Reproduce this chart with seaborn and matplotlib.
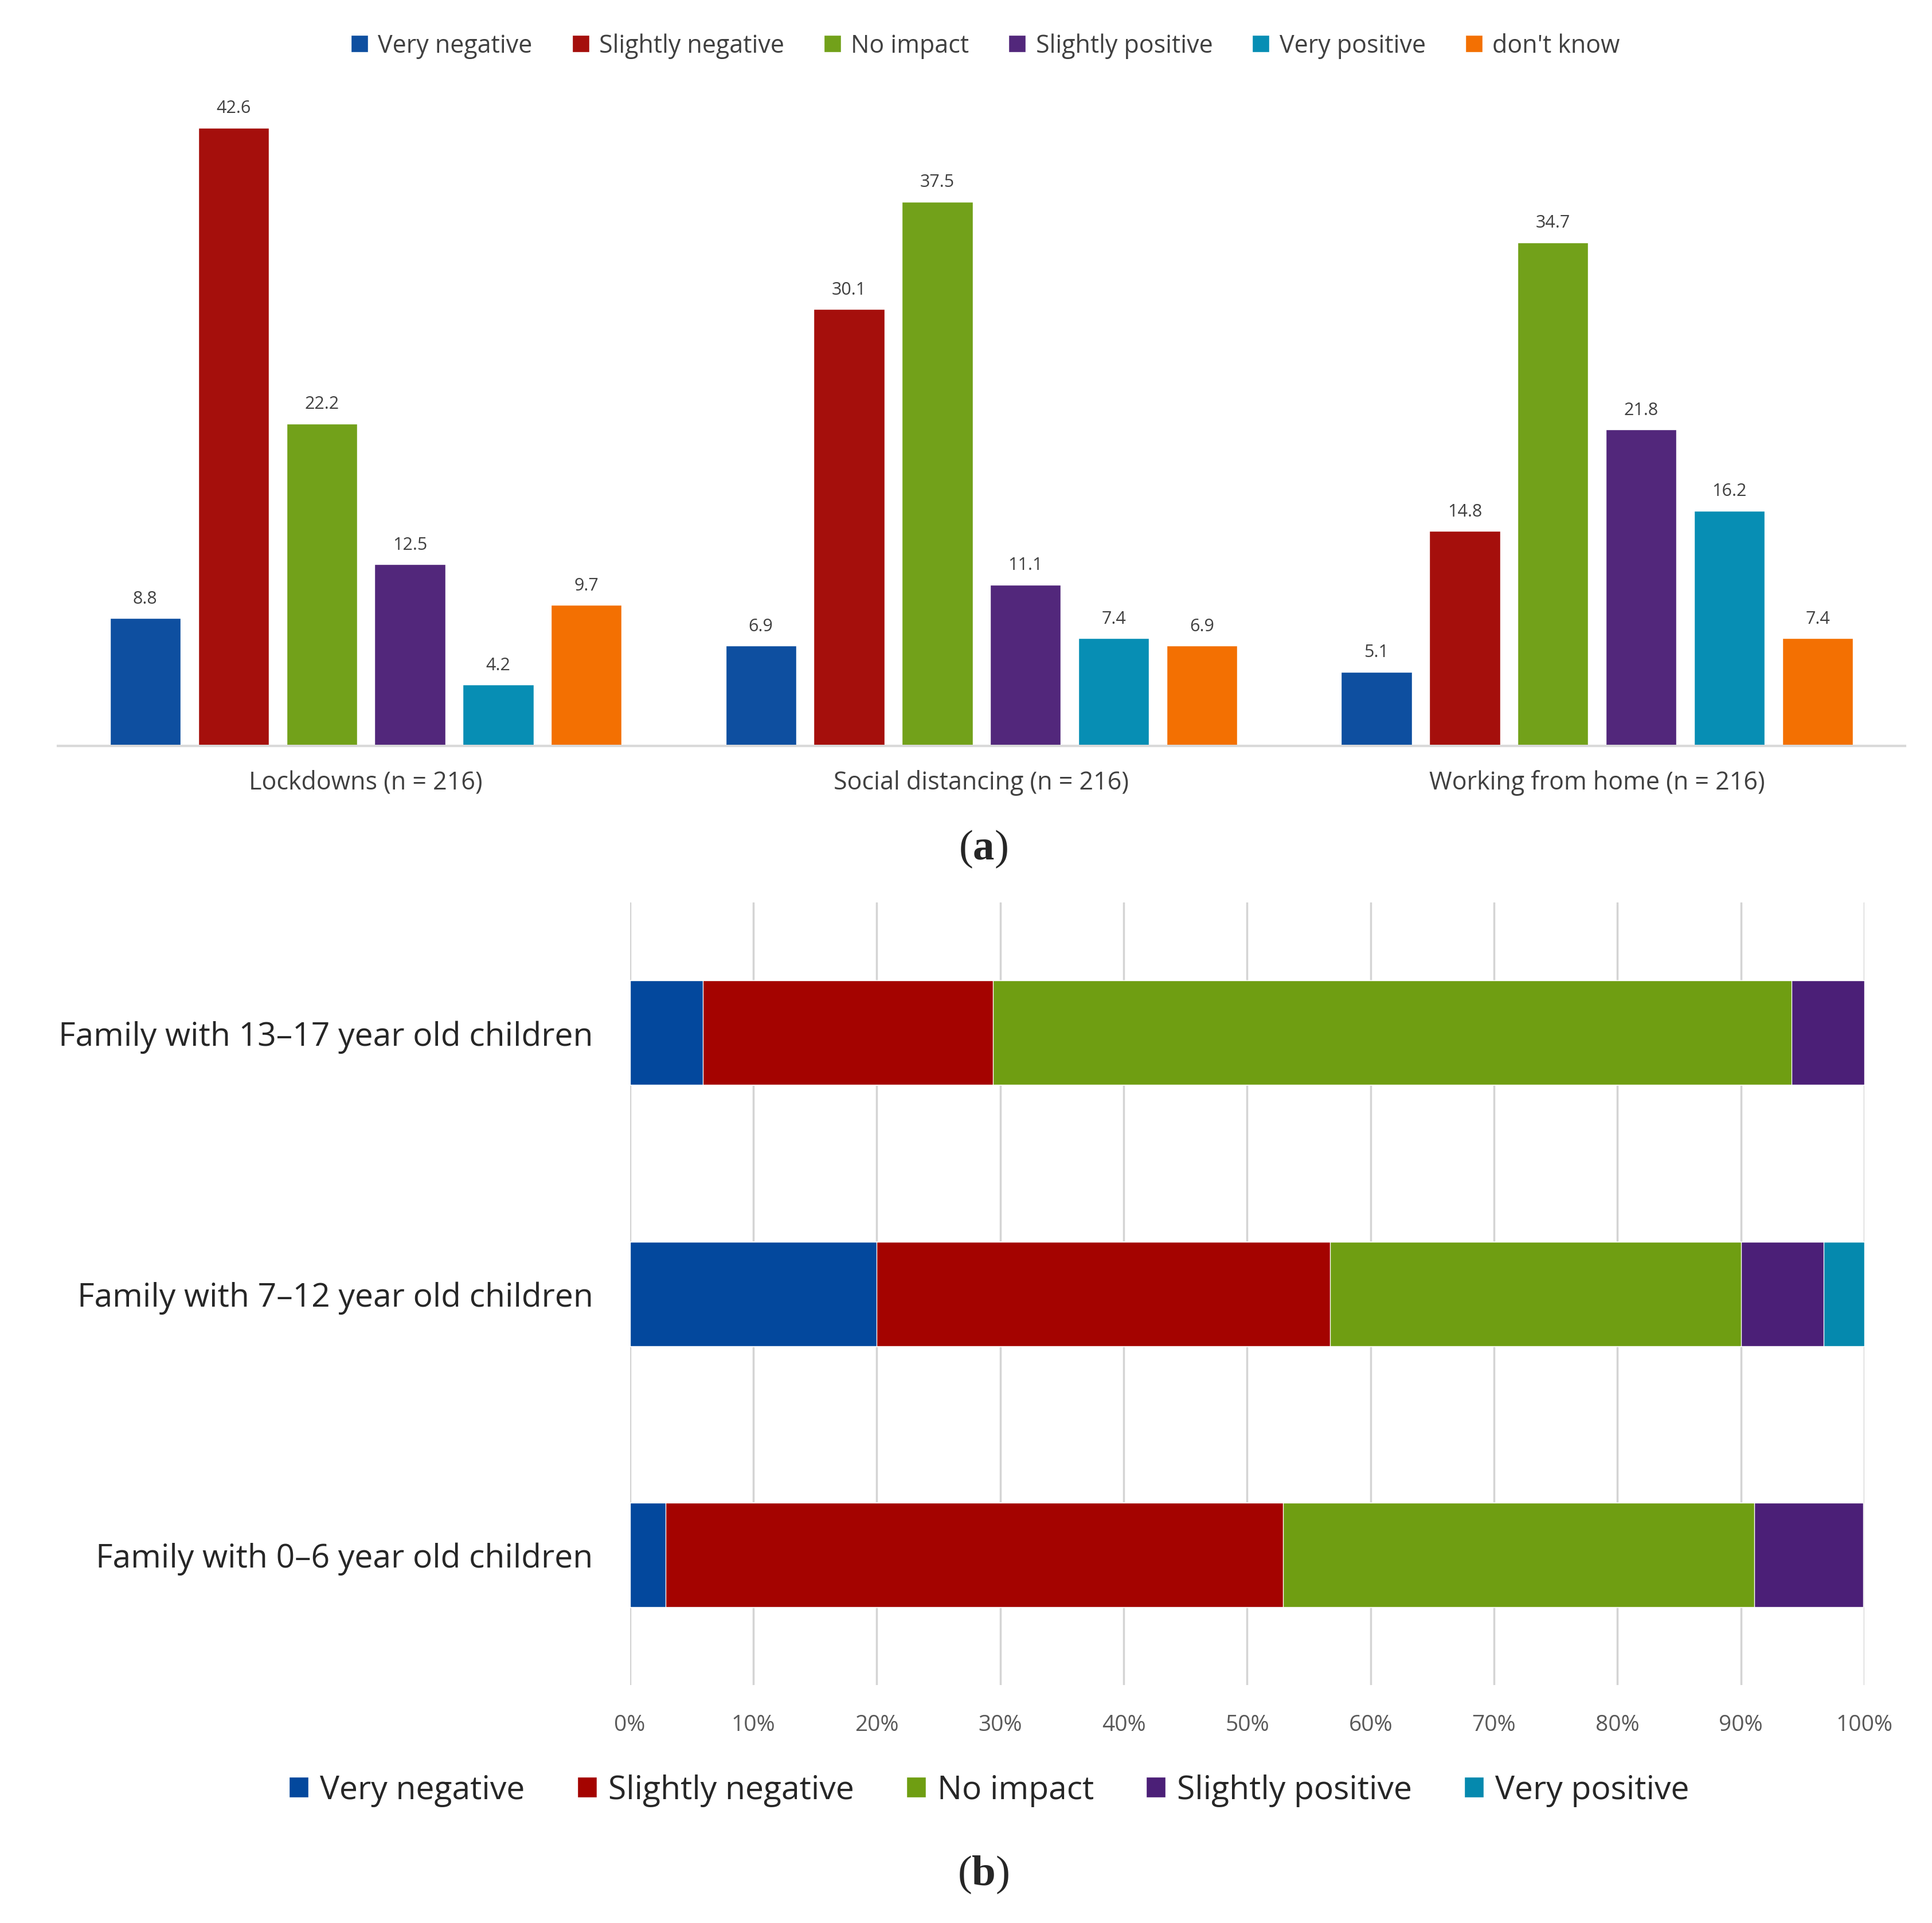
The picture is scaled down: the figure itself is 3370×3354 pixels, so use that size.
import pandas as pd
import matplotlib.pyplot as plt
import seaborn as sns
from matplotlib.patches import Patch

# ---- data: panel (a) ----
measures = ["Lockdowns (n = 216)", "Social distancing (n = 216)", "Working from home (n = 216)"]
responses = ["Very negative", "Slightly negative", "No impact", "Slightly positive", "Very positive", "don't know"]
lockdowns = [8.8, 42.6, 22.2, 12.5, 4.2, 9.7]
social_distancing = [6.9, 30.1, 37.5, 11.1, 7.4, 6.9]
working_from_home = [5.1, 14.8, 34.7, 21.8, 16.2, 7.4]

# ---- data: panel (b) ----
families = ["Family with 13\u201317 year old children",
            "Family with 7\u201312 year old children",
            "Family with 0\u20136 year old children"]
responses_b = ["Very negative", "Slightly negative", "No impact", "Slightly positive", "Very positive"]
very_negative = [5.9, 20.0, 2.9]
slightly_negative = [23.5, 36.7, 50.0]
no_impact = [64.7, 33.3, 38.2]
slightly_positive = [5.9, 6.7, 8.8]
very_positive = [0.0, 3.3, 0.0]

colors = ["#0E4FA0", "#A50F0C", "#72A11A", "#52277B", "#078EB4", "#F37002"]
colors_b = ["#03489D", "#A40300", "#6F9E12", "#4B1F77", "#0589AE"]

sns.set_theme(style="white")
plt.rcParams["font.family"] = ["Open Sans", "DejaVu Sans"]
plt.rcParams["mathtext.fontset"] = "custom"
plt.rcParams["mathtext.rm"] = "Liberation Serif"
plt.rcParams["mathtext.bf"] = "Liberation Serif:bold"

fig = plt.figure(figsize=(33.7, 33.55), dpi=100)

# ---------------- (a) grouped bars ----------------
ax1 = fig.add_axes([0.030, 0.612, 0.956, 0.347])
rows = []
for m, vals in zip(measures, [lockdowns, social_distancing, working_from_home]):
    for r, v in zip(responses, vals):
        rows.append({"measure": m, "response": r, "value": v})
df_a = pd.DataFrame(rows)

sns.barplot(data=df_a, x="measure", y="value", hue="response", order=measures,
            hue_order=responses, palette=colors, saturation=1, width=0.86, gap=0.2,
            errorbar=None, ax=ax1)
for cont in ax1.containers:
    ax1.bar_label(cont, fmt="%.1f", padding=14, fontsize=22, color="#404040")
ax1.set_ylim(0, 46)
ax1.set_xlim(-0.5, 2.5)
ax1.set_xlabel("")
ax1.set_ylabel("")
ax1.set_yticks([])
for s in ["top", "right", "left"]:
    ax1.spines[s].set_visible(False)
ax1.spines["bottom"].set_color("#D9D9D9")
ax1.spines["bottom"].set_linewidth(3)
ax1.tick_params(axis="x", length=0, pad=30, labelsize=31, labelcolor="#404040")
sns.move_legend(ax1, "center", bbox_to_anchor=(0.51, 0.976), bbox_transform=fig.transFigure,
                ncol=6, frameon=False, title=None, fontsize=31, handlelength=0.7,
                handleheight=0.7, handletextpad=0.4, columnspacing=1.6)
for t in ax1.get_legend().get_texts():
    t.set_color("#404040")

fig.text(0.509, 0.559, r"$\mathrm{(}\mathbf{a}\mathrm{)}$", ha="center", va="center", fontsize=54)

# ---------------- (b) stacked horizontal bars ----------------
ax2 = fig.add_axes([0.326, 0.1236, 0.639, 0.407])
layers = [very_negative, slightly_negative, no_impact, slightly_positive, very_positive]
cum = []
running = [0.0, 0.0, 0.0]
for layer in layers:
    running = [a + b for a, b in zip(running, layer)]
    cum.append(running)
# draw from the total down so each segment shows through
for vals, c in reversed(list(zip(cum, colors_b))):
    sns.barplot(x=vals, y=families, orient="h", color=c, saturation=1, width=0.4,
                errorbar=None, ax=ax2)
ax2.set_xlim(0, 100)
ax2.set_ylim(2.5, -0.5)
ax2.set_xticks(range(0, 101, 10))
ax2.set_xticklabels([f"{v}%" for v in range(0, 101, 10)])
ax2.xaxis.grid(True, color="#D4D4D4", linewidth=2.5)
ax2.set_axisbelow(True)
for s in ax2.spines.values():
    s.set_visible(False)
ax2.tick_params(axis="x", length=0, pad=36, labelsize=28, labelcolor="#595959")
ax2.tick_params(axis="y", length=0, pad=46, labelsize=41, labelcolor="#262626")

handles = [Patch(facecolor=c, label=r) for c, r in zip(colors_b, responses_b)]
fig.legend(handles=handles, loc="center", bbox_to_anchor=(0.512, 0.069), ncol=5,
           frameon=False, fontsize=41, handlelength=0.6, handleheight=0.6,
           handletextpad=0.35, columnspacing=1.6, labelcolor="#262626")

fig.text(0.509, 0.0256, r"$\mathrm{(}\mathbf{b}\mathrm{)}$", ha="center", va="center", fontsize=54)

fig.savefig("out.png", dpi=100, facecolor="white")
